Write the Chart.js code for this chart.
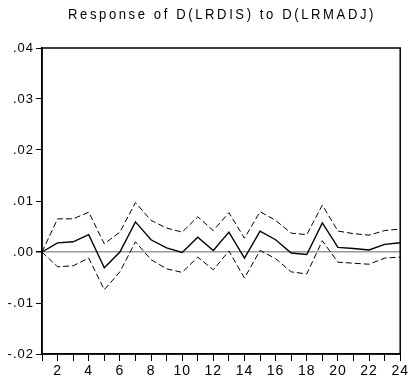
<!DOCTYPE html>
<html>
<head>
<meta charset="utf-8">
<script src="https://cdn.jsdelivr.net/npm/chart.js@4.4.1/dist/chart.umd.min.js"></script>
<style>
  html, body { margin: 0; padding: 0; background: #fff; }
  #wrap { width: 411px; height: 383px; }
</style>
</head>
<body>
<div id="wrap"><canvas id="irfChart" width="411" height="383"></canvas></div>
<script>
// periods 1..24
const periods = ['1','2','3','4','5','6','7','8','9','10','11','12','13','14','15','16','17','18','19','20','21','22','23','24'];
// impulse response and +/- 2 S.E. bands
const response = [0, 0.0018, 0.0020, 0.0034, -0.0031, 0.0000, 0.0059, 0.0024, 0.0008, -0.0001, 0.0029, 0.0003,
                  0.0039, -0.0012, 0.0041, 0.0024, -0.0002, -0.0005, 0.0057, 0.0009, 0.0007, 0.0004, 0.0015, 0.0018];
const upperBand = [0, 0.0065, 0.0065, 0.0078, 0.0016, 0.0039, 0.0097, 0.0062, 0.0047, 0.0039, 0.0069, 0.0042,
                   0.0077, 0.0027, 0.0079, 0.0062, 0.0037, 0.0034, 0.0092, 0.0041, 0.0036, 0.0033, 0.0042, 0.0045];
const lowerBand = [0, -0.0029, -0.0027, -0.0012, -0.0074, -0.0039, 0.0020, -0.0015, -0.0033, -0.0040, -0.0010, -0.0035,
                   0.0002, -0.0051, 0.0003, -0.0013, -0.0039, -0.0043, 0.0022, -0.0020, -0.0022, -0.0024, -0.0012, -0.0010];
const yTicks = [-0.02, -0.01, 0.00, 0.01, 0.02, 0.03, 0.04];
const titleText = 'Response of D(LRDIS) to D(LRMADJ)';

const fontFamily = "'Liberation Sans', Arial, sans-serif";

// letter spacing on the axis text, frame and squeezed title
const spacing = {
  id: 'spacing',
  beforeLayout(chart) { chart.ctx.letterSpacing = '1px'; },
  beforeDraw(chart) { chart.ctx.letterSpacing = '1px'; },
  afterDraw(chart) {
    const { ctx, chartArea: a } = chart;
    ctx.save();
    ctx.letterSpacing = '0px';
    ctx.strokeStyle = '#000';
    ctx.lineWidth = 1.5;
    ctx.strokeRect(a.left, a.top, a.right - a.left, a.bottom - a.top);
    // title, narrowed horizontally
    ctx.translate(222, 15);
    ctx.scale(0.87, 1);
    ctx.letterSpacing = '3px';
    ctx.font = '15px ' + fontFamily;
    ctx.fillStyle = '#000';
    ctx.textAlign = 'center';
    ctx.textBaseline = 'middle';
    ctx.fillText(titleText, 0, 0);
    ctx.restore();
  }
};

const ctx = document.getElementById('irfChart').getContext('2d');
new Chart(ctx, {
  type: 'line',
  data: {
    labels: periods,
    datasets: [
      { data: response, borderColor: '#000', borderWidth: 1.4, pointRadius: 0, tension: 0 },
      { data: upperBand, borderColor: '#000', borderWidth: 1, borderDash: [6, 3], pointRadius: 0, tension: 0 },
      { data: lowerBand, borderColor: '#000', borderWidth: 1, borderDash: [6, 3], pointRadius: 0, tension: 0 }
    ]
  },
  options: {
    responsive: false,
    animation: false,
    layout: { padding: { top: 48, right: 6, left: 0, bottom: 0 } },
    plugins: { legend: { display: false }, tooltip: { enabled: false } },
    scales: {
      x: {
        offset: false,
        border: { color: '#000', width: 1.5 },
        grid: { drawOnChartArea: false, tickLength: 7, tickColor: '#000', lineWidth: 1 },
        ticks: {
          color: '#000', maxRotation: 0, autoSkip: false, padding: 2,
          font: { family: fontFamily, size: 14 },
          callback: (v, i) => (i % 2 === 1 ? periods[i] : '')
        },
        afterFit: s => { s.height = 29; }
      },
      y: {
        min: -0.02, max: 0.04,
        border: { color: '#000', width: 1.5 },
        grid: {
          tickLength: 6, tickColor: '#000',
          color: c => (c.tick && Math.abs(c.tick.value) < 1e-9 ? '#999' : 'rgba(0,0,0,0)'),
          lineWidth: c => (c.tick && Math.abs(c.tick.value) < 1e-9 ? 1.5 : 1)
        },
        afterBuildTicks: s => { s.ticks = yTicks.map(v => ({ value: v })); },
        ticks: {
          color: '#000', padding: 2,
          font: { family: fontFamily, size: 13 },
          callback: v => {
            const t = Math.abs(v).toFixed(2).replace(/^0/, '');
            return (v < -1e-9 ? '-' : '') + t;
          }
        },
        afterFit: s => { s.width = 42; }
      }
    }
  },
  plugins: [spacing]
});
</script>
</body>
</html>
